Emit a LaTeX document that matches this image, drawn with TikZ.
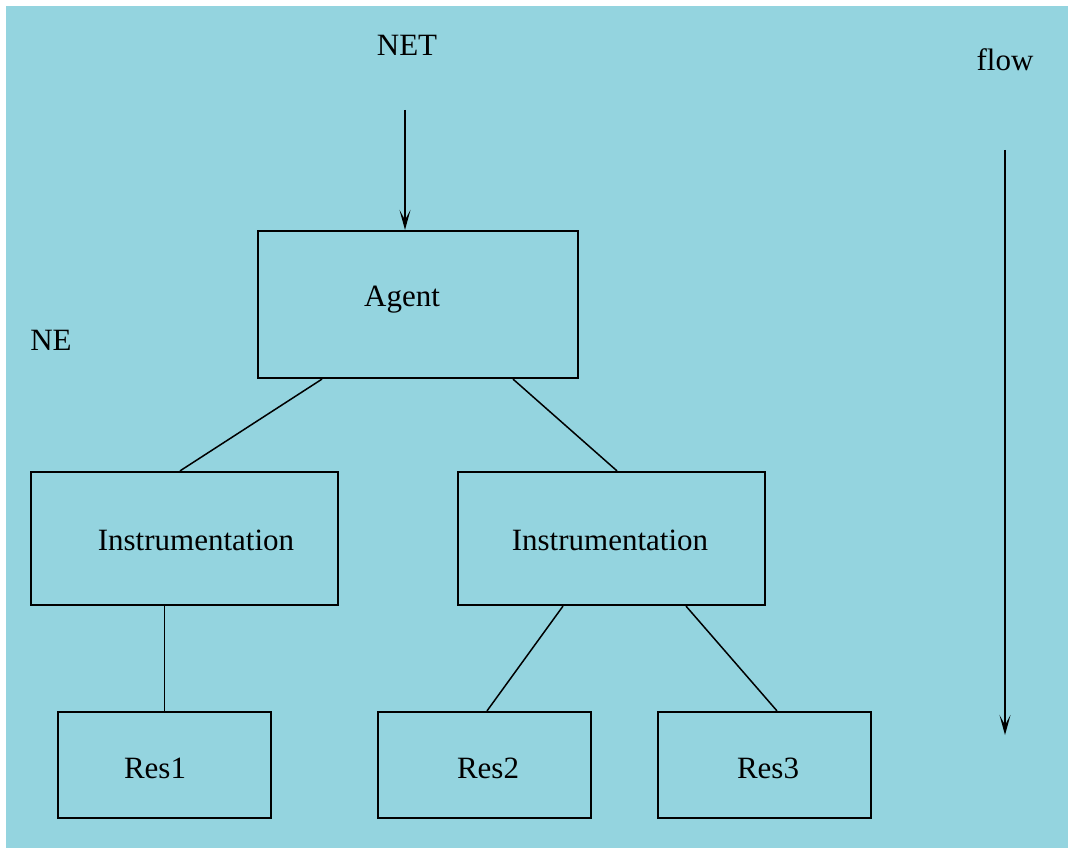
\documentclass[tikz,border=0pt]{standalone}
\usepackage{fontspec}
\setmainfont{Liberation Serif}
\usetikzlibrary{arrows.meta}
\definecolor{bgblue}{HTML}{94D4DF}
\begin{document}
\begin{tikzpicture}[x=1pt,y=-1pt,
  box/.style={draw=black, line width=2.2pt, minimum width=#1, inner sep=0pt},
  lbl/.style={font=\fontsize{31}{36}\selectfont, inner sep=0pt},
  conn/.style={line width=1.5pt},
  arr/.style={line width=1.5pt, -{Stealth[length=20pt,width=11pt,inset=10pt]}}]
\useasboundingbox (0,0) rectangle (1068,848);
\fill[white] (0,0) rectangle (1068,848);
\fill[bgblue] (6,6) rectangle (1068,848);
% boxes
\node[box=320pt, minimum height=147pt] (agent) at (418,304.5) {};
\node[lbl] at (402,300) {Agent};
\node[box=307pt, minimum height=133pt] (instL) at (184.5,538.5) {};
\node[lbl] at (196,540) {Instrumentation};
\node[box=307pt, minimum height=133pt] (instR) at (611.5,538.5) {};
\node[lbl] at (610,540) {Instrumentation};
\node[box=213pt, minimum height=106pt] (res1) at (164.5,765) {};
\node[lbl] at (155,768) {Res1};
\node[box=213pt, minimum height=106pt] (res2) at (484.5,765) {};
\node[lbl] at (488,768) {Res2};
\node[box=213pt, minimum height=106pt] (res3) at (764.5,765) {};
\node[lbl] at (768,768) {Res3};
% labels
\node[lbl] (net) at (407,45) {NET};
\node[lbl] (ne) at (51,340) {NE};
\node[lbl] (flow) at (1005,60) {flow};
\coordinate (netend) at (405,110);
\coordinate (flowtop) at (1005,150);
\coordinate (flowbot) at (1005,735);
% connectors
\draw[arr] (netend) -- (agent.north -| netend);
\draw[arr] (flowtop) -- (flowbot);
\draw[conn] ([xshift=-96pt]agent.south) -- ([xshift=-4.5pt]instL.north);
\draw[conn] ([xshift=95pt]agent.south) -- ([xshift=5.5pt]instR.north);
\draw[conn] ([xshift=-20pt]instL.south) -- (res1.north);
\draw[conn] ([xshift=-48.5pt]instR.south) -- ([xshift=2.5pt]res2.north);
\draw[conn] ([xshift=74.5pt]instR.south) -- ([xshift=12.5pt]res3.north);
\end{tikzpicture}
\end{document}
